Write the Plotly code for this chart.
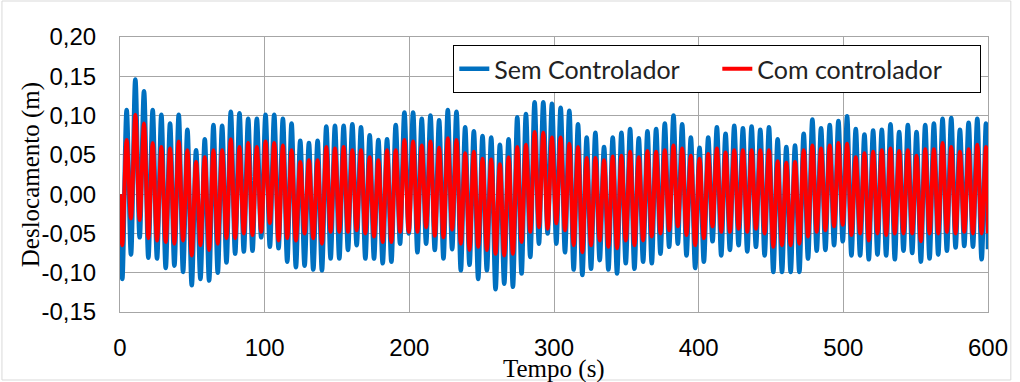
import plotly.graph_objects as go

# ---- data (extremes of the oscillation) ----
t_valley = [1.6, 7.6, 13.6, 19.6, 25.6, 31.6, 37.6, 43.6, 49.6, 55.6,
            61.6, 67.6, 73.6, 79.6, 85.6, 91.6, 97.6, 103.6, 109.6, 115.6,
            121.6, 127.6, 133.6, 139.6, 145.6, 151.6, 157.6, 163.6, 169.6, 175.6,
            181.6, 187.6, 193.6, 199.6, 205.6, 211.6, 217.6, 223.6, 229.6, 235.6,
            241.6, 247.6, 253.6, 259.6, 265.6, 271.6, 277.6, 283.6, 289.6, 295.6,
            301.6, 307.6, 313.6, 319.6, 325.6, 331.6, 337.6, 343.6, 349.6, 355.6,
            361.6, 367.6, 373.6, 379.6, 385.6, 391.6, 397.6, 403.6, 409.6, 415.6,
            421.6, 427.6, 433.6, 439.6, 445.6, 451.6, 457.6, 463.6, 469.6, 475.6,
            481.6, 487.6, 493.6, 499.6, 505.6, 511.6, 517.6, 523.6, 529.6, 535.6,
            541.6, 547.6, 553.6, 559.6, 565.6, 571.6, 577.6, 583.6, 589.6, 595.6]
t_peak = [4.6, 10.6, 16.6, 22.6, 28.6, 34.6, 40.6, 46.6, 52.6, 58.6,
          64.6, 70.6, 76.6, 82.6, 88.6, 94.6, 100.6, 106.6, 112.6, 118.6,
          124.6, 130.6, 136.6, 142.6, 148.6, 154.6, 160.6, 166.6, 172.6, 178.6,
          184.6, 190.6, 196.6, 202.6, 208.6, 214.6, 220.6, 226.6, 232.6, 238.6,
          244.6, 250.6, 256.6, 262.6, 268.6, 274.6, 280.6, 286.6, 292.6, 298.6,
          304.6, 310.6, 316.6, 322.6, 328.6, 334.6, 340.6, 346.6, 352.6, 358.6,
          364.6, 370.6, 376.6, 382.6, 388.6, 394.6, 400.6, 406.6, 412.6, 418.6,
          424.6, 430.6, 436.6, 442.6, 448.6, 454.6, 460.6, 466.6, 472.6, 478.6,
          484.6, 490.6, 496.6, 502.6, 508.6, 514.6, 520.6, 526.6, 532.6, 538.6,
          544.6, 550.6, 556.6, 562.6, 568.6, 574.6, 580.6, 586.6, 592.6, 598.6]
t_start = 0.0
t_end = 600.0

sem_valley = [-0.108, -0.077, -0.055, -0.081, -0.082, -0.094, -0.091, -0.099, -0.116, -0.108,
              -0.110, -0.100, -0.087, -0.076, -0.073, -0.072, -0.055, -0.067, -0.069, -0.086,
              -0.093, -0.091, -0.096, -0.097, -0.082, -0.082, -0.071, -0.065, -0.082, -0.082,
              -0.088, -0.086, -0.063, -0.050, -0.074, -0.063, -0.071, -0.082, -0.070, -0.097,
              -0.090, -0.108, -0.097, -0.121, -0.114, -0.118, -0.101, -0.080, -0.063, -0.050,
              -0.063, -0.074, -0.096, -0.103, -0.095, -0.084, -0.096, -0.101, -0.088, -0.095,
              -0.086, -0.088, -0.076, -0.067, -0.063, -0.078, -0.094, -0.086, -0.060, -0.078,
              -0.071, -0.065, -0.073, -0.067, -0.078, -0.099, -0.099, -0.099, -0.099, -0.082,
              -0.072, -0.071, -0.065, -0.060, -0.078, -0.078, -0.083, -0.077, -0.078, -0.083,
              -0.072, -0.075, -0.086, -0.082, -0.077, -0.072, -0.068, -0.066, -0.067, -0.083]
sem_peak = [0.107, 0.146, 0.131, 0.107, 0.101, 0.090, 0.101, 0.082, 0.056, 0.070,
            0.088, 0.087, 0.105, 0.103, 0.096, 0.096, 0.101, 0.101, 0.096, 0.090,
            0.068, 0.065, 0.068, 0.086, 0.087, 0.087, 0.089, 0.085, 0.075, 0.069,
            0.070, 0.088, 0.104, 0.104, 0.096, 0.100, 0.094, 0.107, 0.105, 0.085,
            0.080, 0.074, 0.072, 0.063, 0.070, 0.098, 0.102, 0.117, 0.117, 0.115,
            0.110, 0.106, 0.089, 0.072, 0.078, 0.060, 0.072, 0.078, 0.083, 0.071,
            0.080, 0.083, 0.090, 0.100, 0.089, 0.072, 0.059, 0.072, 0.085, 0.077,
            0.087, 0.084, 0.086, 0.082, 0.085, 0.070, 0.060, 0.062, 0.077, 0.095,
            0.084, 0.088, 0.093, 0.099, 0.083, 0.076, 0.081, 0.082, 0.089, 0.079,
            0.088, 0.079, 0.088, 0.090, 0.096, 0.097, 0.082, 0.091, 0.096, 0.090]
sem_start = 0.0
sem_end = -0.07

com_valley = [-0.065, -0.031, -0.033, -0.056, -0.059, -0.061, -0.063, -0.059, -0.078, -0.065,
              -0.071, -0.063, -0.056, -0.056, -0.050, -0.052, -0.048, -0.037, -0.059, -0.056,
              -0.059, -0.050, -0.056, -0.063, -0.048, -0.048, -0.048, -0.046, -0.050, -0.054,
              -0.061, -0.061, -0.048, -0.048, -0.048, -0.042, -0.053, -0.055, -0.045, -0.063,
              -0.071, -0.067, -0.071, -0.076, -0.078, -0.076, -0.061, -0.048, -0.042, -0.044,
              -0.037, -0.046, -0.065, -0.074, -0.065, -0.059, -0.067, -0.069, -0.059, -0.065,
              -0.059, -0.054, -0.050, -0.046, -0.041, -0.052, -0.065, -0.056, -0.041, -0.048,
              -0.048, -0.044, -0.048, -0.044, -0.050, -0.067, -0.065, -0.065, -0.063, -0.054,
              -0.048, -0.046, -0.041, -0.039, -0.052, -0.050, -0.059, -0.050, -0.052, -0.050,
              -0.050, -0.050, -0.060, -0.050, -0.050, -0.048, -0.050, -0.048, -0.050, -0.050]
com_peak = [0.069, 0.101, 0.090, 0.065, 0.060, 0.058, 0.067, 0.056, 0.041, 0.047,
            0.056, 0.056, 0.070, 0.060, 0.065, 0.060, 0.067, 0.065, 0.062, 0.056,
            0.041, 0.043, 0.043, 0.060, 0.058, 0.060, 0.056, 0.056, 0.047, 0.043,
            0.056, 0.056, 0.069, 0.067, 0.062, 0.067, 0.059, 0.071, 0.069, 0.052,
            0.054, 0.045, 0.044, 0.038, 0.047, 0.060, 0.063, 0.079, 0.078, 0.072,
            0.072, 0.064, 0.060, 0.046, 0.046, 0.043, 0.048, 0.049, 0.054, 0.047,
            0.055, 0.054, 0.056, 0.062, 0.058, 0.049, 0.045, 0.051, 0.058, 0.053,
            0.056, 0.056, 0.056, 0.056, 0.056, 0.042, 0.040, 0.041, 0.056, 0.062,
            0.058, 0.062, 0.065, 0.064, 0.047, 0.052, 0.054, 0.056, 0.058, 0.055,
            0.056, 0.049, 0.057, 0.057, 0.065, 0.060, 0.054, 0.057, 0.063, 0.060]
com_start = 0.0
com_end = -0.05

y_tick_vals = [-0.15, -0.10, -0.05, 0.00, 0.05, 0.10, 0.15, 0.20]
y_tick_text = ["-0,15", "-0,10", "-0,05", "0,00", "0,05", "0,10", "0,15", "0,20"]
x_tick_vals = [0, 100, 200, 300, 400, 500, 600]
x_tick_text = ["0", "100", "200", "300", "400", "500", "600"]

series_names = ["Sem Controlador", "Com controlador"]


def build(t_v, t_p, v, p, t0, y0, t1, y1):
    xs, ys = [t0], [y0]
    for a, b, c, d in zip(t_v, v, t_p, p):
        xs += [a, c]
        ys += [b, d]
    xs.append(t1)
    ys.append(y1)
    return xs, ys


x_sem, y_sem = build(t_valley, t_peak, sem_valley, sem_peak, t_start, sem_start, t_end, sem_end)
x_com, y_com = build(t_valley, t_peak, com_valley, com_peak, t_start, com_start, t_end, com_end)

fig = go.Figure()
fig.add_trace(go.Scatter(x=x_sem, y=y_sem, mode="lines", name=series_names[0],
                         line=dict(color="#0070C0", width=4.5, shape="spline", smoothing=1.0)))
fig.add_trace(go.Scatter(x=x_com, y=y_com, mode="lines", name=series_names[1],
                         line=dict(color="#FF0000", width=4, shape="spline", smoothing=1.0)))

W, H = 1020, 382
L, R, T, B = 120, 25, 37, 70
pw, ph = W - L - R, H - T - B

tick_font = dict(family="Liberation Sans, Arial, sans-serif", size=24, color="#000000")
title_font = dict(family="Liberation Serif, Times New Roman, serif", size=25, color="#000000")

fig.update_layout(
    width=W, height=H,
    margin=dict(l=L, r=R, t=T, b=B, pad=0),
    paper_bgcolor="white", plot_bgcolor="white",
    showlegend=True,
    legend=dict(orientation="h", x=(456 - L) / pw, y=(H - B - 45) / ph,
                xanchor="left", yanchor="top",
                bgcolor="white", bordercolor="#000000", borderwidth=1,
                font=dict(family="Lato, Carlito, sans-serif", size=25, color="#222222"),
                entrywidth=218, entrywidthmode="pixels", tracegroupgap=0),
    xaxis=dict(range=[0, 600], tickvals=x_tick_vals, ticktext=x_tick_text,
               showgrid=True, gridcolor="#a6a6a6", gridwidth=1,
               showline=True, linecolor="#a6a6a6", linewidth=1, mirror=True,
               zeroline=False, ticks="", tickfont=tick_font, ticklabelstandoff=14),
    yaxis=dict(range=[-0.15, 0.20], tickvals=y_tick_vals, ticktext=y_tick_text,
               showgrid=True, gridcolor="#a6a6a6", gridwidth=1,
               showline=True, linecolor="#a6a6a6", linewidth=1, mirror=True,
               zeroline=False, ticks="", tickfont=tick_font, ticklabelstandoff=18),
    annotations=[
        dict(text="Tempo (s)", xref="paper", yref="paper", x=0.5, y=(H - B - 369) / ph,
             xanchor="center", yanchor="middle", showarrow=False, font=title_font),
        dict(text="Deslocamento (m)", xref="paper", yref="paper", x=(30 - L) / pw, y=0.5,
             xanchor="center", yanchor="middle", showarrow=False, textangle=-90,
             font=title_font),
    ],
    shapes=[dict(type="rect", xref="paper", yref="paper",
                 x0=(1 - L) / pw, x1=(W - 2 - L) / pw,
                 y0=(H - B - (H - 2)) / ph, y1=(H - B - 1) / ph,
                 line=dict(color="#d9d9d9", width=1), fillcolor="rgba(0,0,0,0)", layer="below")],
)

fig.write_html("out.html", config={"displayModeBar": False, "staticPlot": True},
               post_script="document.body.style.margin='0px';document.body.style.overflow='hidden';")
